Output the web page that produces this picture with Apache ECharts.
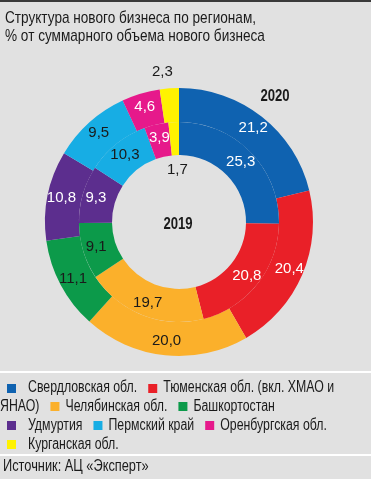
<!DOCTYPE html>
<html>
<head>
<meta charset="utf-8">
<script src="https://cdn.jsdelivr.net/npm/echarts@6/dist/echarts.min.js"></script>
<style>
html,body{margin:0;padding:0;background:#e1e1e1;}
#chart{width:371px;height:479px;}
</style>
</head>
<body>
<div id="chart"></div>
<script>
const categories = ['Свердловская обл.', 'Тюменская обл. (вкл. ХМАО и ЯНАО)', 'Челябинская обл.', 'Башкортостан', 'Удмуртия', 'Пермский край', 'Оренбургская обл.', 'Курганская обл.'];
const values2020 = [21.2, 20.4, 20.0, 11.1, 10.8, 9.5, 4.6, 2.3];
const values2019 = [25.3, 20.8, 19.7, 9.1, 9.3, 10.3, 3.9, 1.7];
const colors = ['#0f62b0', '#e92028', '#fbb02b', '#0c9a4a', '#5c2e8e', '#17ade4', '#e6198b', '#fff200'];
const labelColors = ['#ffffff', '#ffffff', '#1a1a1a', '#1a1a1a', '#ffffff', '#1a1a1a', '#ffffff', '#1a1a1a'];
const yearLabels = ['2020', '2019'];
const titleLines = ['Структура нового бизнеса по регионам,', '% от суммарного объема нового бизнеса'];
const sourceText = 'Источник: АЦ «Эксперт»';

const FONT = '"Liberation Sans", Arial, sans-serif';
const fmt = v => v.toFixed(1).replace('.', ',');

const chart = echarts.init(document.getElementById('chart'), null, {renderer: 'canvas'});
const cx = 179, cy = 222;

function pieData(values, offsetLast) {
  return values.map((v, i) => {
    const item = {name: categories[i], value: v, itemStyle: {color: colors[i]}, label: {color: labelColors[i]}};
    if (i === values.length - 1) item.label.offset = offsetLast;
    return item;
  });
}

function narrowText(x, y, text, size, scale, weight, align) {
  return {type: 'text', x: x, y: y, scaleX: scale,
    style: {text: text, font: (weight || 'normal') + ' ' + size + 'px ' + FONT, fill: '#1a1a1a', verticalAlign: 'middle', align: align || 'left'}};
}

// legend flow layout
const LEG_SCALE = 0.77;
const ctx = document.createElement('canvas').getContext('2d');
const legendFontSize = 16;
ctx.font = legendFontSize + 'px ' + FONT;
const measure = s => ctx.measureText(s).width * LEG_SCALE;
const legendEls = [];
const maxW = 347, lineH = 18.8, sq = 9;
let lx = 0, ly = 388;
const spaceW = measure(' ');
categories.forEach((name, i) => {
  const words = name.split(' ');
  const firstW = measure(words[0]);
  let startX = lx === 0 ? 7 : lx + 11;
  let gapAfter = lx === 0 ? 12 : 6;
  if (startX + sq + gapAfter + firstW > maxW) {
    lx = 0; ly += lineH; startX = 7; gapAfter = 12;
  }
  legendEls.push({type: 'rect', shape: {x: startX, y: Math.round(ly - sq / 2), width: sq, height: sq}, style: {fill: colors[i]}});
  lx = startX + sq + gapAfter;
  words.forEach((w, k) => {
    const ww = measure(w);
    if (k > 0) {
      if (lx + spaceW + ww > maxW) { lx = 0; ly += lineH; }
      else lx += spaceW;
    }
    legendEls.push(narrowText(lx, ly, w, legendFontSize, LEG_SCALE));
    lx += ww;
  });
});

const option = {
  backgroundColor: '#e1e1e1',
  animation: false,
  series: [
    {
      type: 'pie', name: yearLabels[0],
      center: [cx, cy], radius: [100, 134],
      startAngle: 90, clockwise: true, avoidLabelOverlap: false,
      label: {show: true, position: 'inside', formatter: p => fmt(p.value), fontFamily: FONT, fontSize: 15},
      labelLine: {show: false},
      itemStyle: {borderWidth: 0},
      emphasis: {disabled: true},
      data: pieData(values2020, [-8, -30])
    },
    {
      type: 'pie', name: yearLabels[1],
      center: [cx, cy], radius: [67, 100],
      startAngle: 90, clockwise: true, avoidLabelOverlap: false,
      label: {show: true, position: 'inside', formatter: p => fmt(p.value), fontFamily: FONT, fontSize: 15},
      labelLine: {show: false},
      itemStyle: {borderWidth: 0},
      emphasis: {disabled: true},
      data: pieData(values2019, [3, 34])
    }
  ],
  graphic: [
    {type: 'rect', shape: {x: 0, y: 0, width: 371, height: 2}, style: {fill: '#3a3a3a'}},
    {type: 'rect', shape: {x: 0, y: 371, width: 371, height: 2}, style: {fill: '#ffffff'}},
    {type: 'rect', shape: {x: 0, y: 454, width: 371, height: 2}, style: {fill: '#ffffff'}},
    narrowText(5, 18, titleLines[0], 17, 0.8),
    narrowText(5, 36, titleLines[1], 17, 0.8),
    narrowText(275, 97, yearLabels[0], 16, 0.82, 'bold', 'center'),
    narrowText(178, 225, yearLabels[1], 16, 0.82, 'bold', 'center'),
    narrowText(3, 467, sourceText, 16, 0.8),
    {type: 'group', children: legendEls}
  ]
};
chart.setOption(option);
</script>
</body>
</html>
